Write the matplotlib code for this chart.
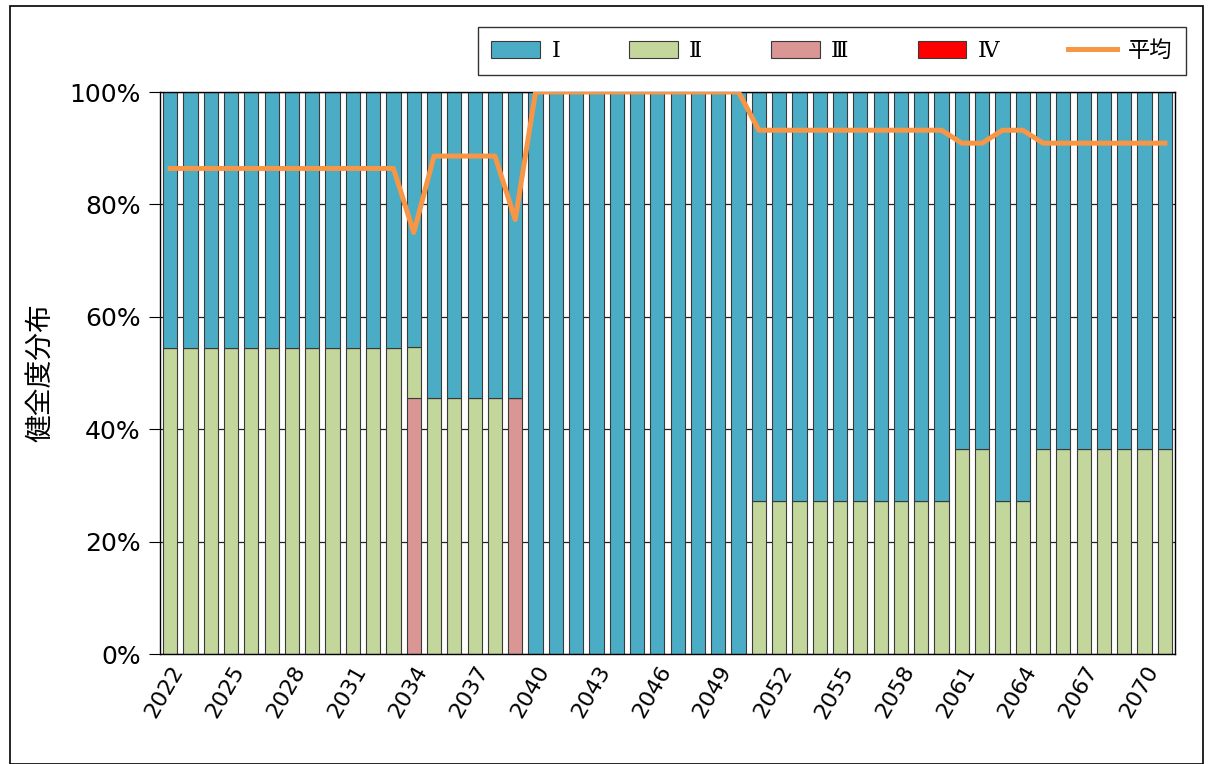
import matplotlib
matplotlib.use("Agg")
import matplotlib.pyplot as plt
from matplotlib.patches import Rectangle
import numpy as np

plt.rcParams['font.family'] = ['Noto Sans CJK JP', 'DejaVu Sans']

years = list(range(2022, 2072))
# shares (%) per year
grade1 = [45.5]*12 + [45.5] + [54.5]*4 + [54.5] + [100.0]*11 + [72.7]*10 + [63.6]*2 + [72.7]*2 + [63.6]*7
grade2 = [54.5]*12 + [9.1] + [45.5]*4 + [0.0] + [0.0]*11 + [27.3]*10 + [36.4]*2 + [27.3]*2 + [36.4]*7
grade3 = [0.0]*12 + [45.5] + [0.0]*4 + [45.5] + [0.0]*11 + [0.0]*10 + [0.0]*2 + [0.0]*2 + [0.0]*7
grade4 = [0.0]*50
average = [86.4]*12 + [75.0] + [88.6]*4 + [77.3] + [100.0]*11 + [93.2]*10 + [90.9]*2 + [93.2]*2 + [90.9]*7

series_labels = ['Ⅰ', 'Ⅱ', 'Ⅲ', 'Ⅳ']
avg_label = '平均'
colors = ['#4BACC6', '#C3D69B', '#D99694', '#FF0000']
avg_color = '#F79646'

fig = plt.figure(figsize=(12.08, 7.64), dpi=100)
ax = fig.add_axes([160/1208, 1-654/764, (1175-160)/1208, (654-92)/764])

x = np.arange(len(years))
# Stack: III at bottom, then II, then IV, then I on top
stack_order = [(2, grade3), (1, grade2), (3, grade4), (0, grade1)]
bottom = np.zeros(len(years))
handles = {}
for idx, vals in stack_order:
    v = np.array(vals) / 100.0
    b = ax.bar(x, v, width=0.7, bottom=bottom, color=colors[idx], edgecolor='#3a3a3a',
               linewidth=0.8, zorder=2, label=series_labels[idx])
    handles[idx] = b
    bottom += v

line, = ax.plot(x, np.array(average)/100.0, color=avg_color, linewidth=3.6, zorder=3,
                solid_joinstyle='round', label=avg_label)

ax.set_xlim(-0.5, len(years)-0.5)
ax.set_ylim(0, 1.0)
yt = np.arange(0, 1.01, 0.2)
ax.set_yticks(yt)
ax.set_yticklabels([f'{int(round(t*100))}%' for t in yt], fontsize=18, family='DejaVu Sans')
ax.yaxis.grid(True, color='#222222', linewidth=0.9, zorder=0)
ax.set_axisbelow(True)

ax.set_xticks(x)
ax.set_xticklabels([str(y) if (y-2022) % 3 == 0 else '' for y in years], rotation=60,
                   fontsize=16, ha='right', rotation_mode='anchor', family='DejaVu Sans')
ax.tick_params(axis='x', length=3, direction='in', pad=6)
ax.tick_params(axis='y', length=8, direction='out', pad=6)
for s in ax.spines.values():
    s.set_color('black')
    s.set_linewidth(1.0)

ax.set_ylabel('健全度分布', fontsize=20, labelpad=10)

leg = fig.legend([handles[0], handles[1], handles[2], handles[3], line],
                 series_labels + [avg_label], loc='center',
                 bbox_to_anchor=((474+1190)/2/1208, 1-51/764), ncol=5,
                 prop={'family': ['DejaVu Serif', 'Noto Sans CJK JP'], 'size': 16},
                 frameon=True, fancybox=False, edgecolor='black',
                 handlelength=2.2, handleheight=0.8, columnspacing=3.1,
                 borderpad=0.6, handletextpad=0.5, borderaxespad=0)
leg.get_frame().set_linewidth(1.0)

fig.patches.append(Rectangle((10/1208, 0.0), (1203-10)/1208, 1-6/764, transform=fig.transFigure,
                             fill=False, edgecolor='black', linewidth=1.2))

fig.savefig('out.png', dpi=100)
